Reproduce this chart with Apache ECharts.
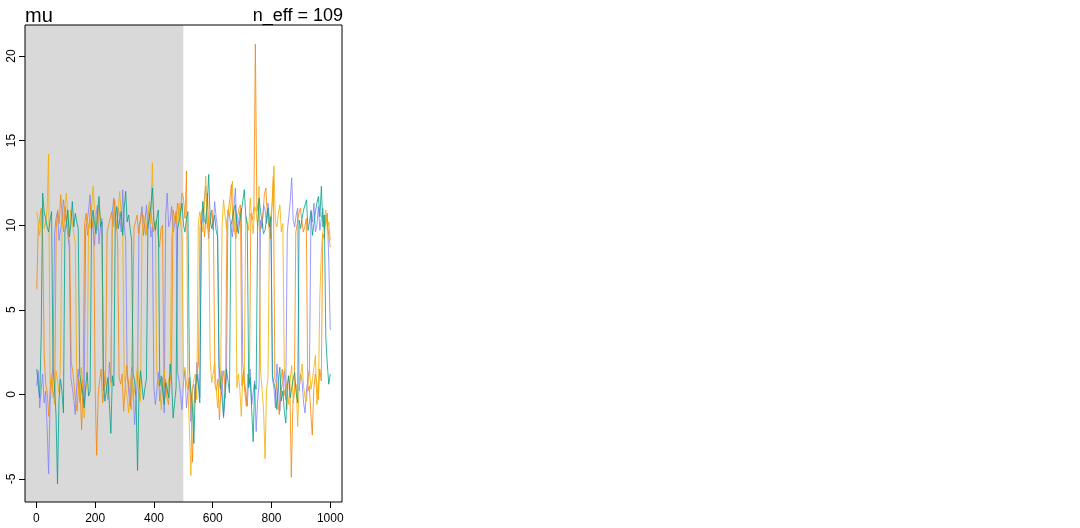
<!DOCTYPE html>
<html>
<head>
<meta charset="utf-8">
<script src="https://cdn.jsdelivr.net/npm/echarts@6/dist/echarts.min.js"></script>
<style>html,body{margin:0;padding:0;background:#fff}#c{width:1080px;height:528px}</style>
</head>
<body>
<div id="c"></div>
<script>
// Trace plot of parameter "mu": 4 chains, values read approximately every ~5 iterations
const chainNames = ['chain 1', 'chain 2', 'chain 3', 'chain 4'];
const chainColors = ['#8080FF', '#F98400', '#F2AD00', '#00A08A'];
const chain1 = [0.5,1.4,-0.8,0.3,1.2,-0.5,0.2,-1.9,-4.7,-0.6,0.8,1.7,9.5,10.4,10.8,9.1,9.2,10.3,11.5,10.7,10.1,9.4,8.6,1.0,0.4,-0.3,-1.2,0.6,1.5,-0.4,0.1,0.9,-0.5,9.7,10.2,10.9,11.8,10.3,9.7,8.8,10.6,11.2,8.9,9.9,10.4,0.2,1.1,0.4,-0.3,1.9,0.7,10.8,11.6,10.1,9.8,11.0,10.5,9.6,12.1,10.0,9.1,1.3,0.2,-0.7,1.6,0.4,-1.8,-0.2,0.9,10.0,10.3,11.1,9.4,10.2,11.2,9.8,10.7,9.3,9.9,0.5,-0.6,0.2,1.3,-0.4,0.4,1.0,-1.1,10.6,11.9,9.9,10.2,11.1,9.6,10.0,10.8,1.3,0.8,0.0,-0.9,0.7,1.4,-0.8,0.2,1.0,-1.6,0.3,0.6,-0.5,1.9,0.9,-0.2,9.9,10.4,11.5,12.3,10.2,9.2,10.6,10.9,9.7,11.4,10.5,9.8,0.8,0.3,1.4,-1.4,-0.2,1.0,10.9,10.6,9.9,9.3,11.0,12.2,9.6,10.1,10.8,11.0,1.8,0.9,0.1,-0.7,1.0,1.5,-0.6,0.1,0.8,-2.2,-0.4,0.6,10.3,9.8,11.2,10.9,10.1,11.3,10.4,9.5,0.9,0.4,-0.8,1.8,0.6,-1.0,0.3,0.7,1.4,-0.3,9.6,10.5,11.4,12.8,10.3,9.9,10.6,11.0,0.2,1.2,0.8,-0.5,-1.1,0.3,0.9,1.6,10.9,10.2,11.3,9.6,10.0,11.1,9.7,10.4,11.0,9.8,10.2,10.7,7.9,3.8];
const chain2 = [6.2,9.8,10.4,11.0,9.1,2.3,0.6,0.1,-1.3,0.4,1.1,-0.2,0.2,9.8,10.9,10.1,11.8,10.5,9.6,11.1,10.3,9.7,8.8,1.9,1.4,0.5,-0.4,-1.0,0.9,0.2,-2.1,1.0,10.1,10.7,9.4,10.0,11.2,9.9,10.6,0.4,-3.6,-0.1,0.8,1.5,-0.5,0.2,1.3,9.6,9.7,10.4,10.8,9.9,11.5,10.2,9.2,1.0,0.6,1.2,-1.0,0.3,1.7,0.9,0.1,-0.9,-0.8,9.9,10.2,10.6,9.5,10.1,10.8,10.4,9.9,9.4,10.4,10.9,11.1,10.2,9.6,10.0,10.3,9.3,8.7,9.8,10.0,0.4,0.9,-0.2,-0.6,0.7,1.4,10.9,10.5,10.1,11.3,10.6,10.8,11.9,11.6,10.4,13.2,0.3,1.0,-0.8,-4.0,-0.5,0.4,1.2,1.8,9.9,10.7,11.0,9.3,10.4,11.9,9.6,10.2,10.9,9.8,0.6,0.2,0.9,-1.5,0.3,0.8,1.4,-0.2,10.2,10.9,11.6,12.4,10.1,9.7,9.2,10.5,11.0,11.2,0.5,1.3,0.1,-0.7,1.2,0.6,10.7,10.3,11.1,20.7,10.8,11.4,9.7,10.0,10.5,11.8,12.2,10.6,9.9,9.2,11.0,12.9,0.9,0.7,-0.4,-1.2,0.8,1.5,-0.1,0.3,-0.9,1.1,0.6,-4.9,-0.7,0.4,9.6,10.1,10.7,11.0,10.3,9.6,9.9,10.4,0.2,0.5,-1.1,-2.4,0.3,1.2,0.7,-0.3,1.5,0.8,9.5,9.2,10.6,10.1,9.4,8.7];
const chain3 = [10.8,10.1,9.4,10.6,11.2,9.8,10.1,11.0,14.2,0.6,1.2,0.3,-0.6,1.4,0.8,0.1,1.9,9.8,10.5,11.2,11.9,10.4,9.6,10.9,10.2,9.5,8.9,1.0,0.3,-0.5,1.6,0.4,-1.4,0.2,0.7,10.1,9.8,10.9,12.3,11.0,10.4,9.7,11.1,10.5,9.3,0.5,1.4,0.6,-0.2,0.3,0.9,9.6,11.2,10.3,10.0,10.9,12.0,10.4,9.7,1.1,0.5,-0.2,-1.1,0.6,1.3,-0.3,0.2,0.8,1.8,0.1,-0.4,9.4,10.6,10.2,9.5,10.8,11.4,10.1,13.7,9.9,10.2,1.3,0.8,0.2,-0.9,0.7,1.5,-0.2,0.1,0.9,1.1,9.2,9.9,10.5,10.7,9.8,11.3,10.2,9.4,0.9,1.6,0.6,0.2,-2.1,-4.8,0.3,0.9,1.2,-0.3,10.1,10.8,10.2,9.6,11.0,12.9,9.8,10.3,2.1,0.7,1.2,1.9,0.4,-0.8,0.6,0.4,9.9,11.5,10.6,9.8,10.9,10.4,11.3,12.6,9.6,10.9,0.4,1.2,0.3,-1.3,1.1,0.6,10.5,10.2,9.7,11.6,10.4,9.5,11.1,10.8,9.9,12.3,1.4,0.3,-0.9,-3.8,0.2,1.0,9.8,10.6,11.4,13.5,10.2,9.9,10.7,11.2,9.6,10.1,1.6,0.8,0.1,-0.6,0.9,1.7,-0.5,0.2,0.6,-1.9,0.4,1.1,1.8,0.5,-0.2,-0.4,0.7,1.4,0.3,0.9,1.6,2.3,-0.6,0.1,5.9,8.4,9.6,10.3,10.9,9.7,10.2,9.1];
const chain4 = [1.5,0.6,-0.2,3.5,11.9,10.8,10.4,9.9,9.6,10.3,10.8,1.6,0.4,-1.2,-5.3,-0.4,0.9,0.2,-1.1,9.7,10.1,10.9,9.3,10.0,11.4,9.9,10.7,10.2,9.8,1.2,0.6,0.1,-0.8,0.5,1.3,-0.1,0.2,10.3,10.9,10.1,9.5,10.6,11.7,9.9,10.2,0.7,-0.4,0.3,1.0,-0.6,-2.3,1.1,0.5,10.4,11.1,9.8,10.3,10.8,9.4,11.0,12.0,10.2,10.6,9.8,9.1,1.2,0.8,-0.3,-4.5,0.2,1.4,0.5,-0.3,0.4,0.9,10.0,10.5,11.1,12.2,10.3,9.7,10.4,10.9,0.5,1.1,0.2,-0.6,0.7,0.3,-0.2,1.8,0.8,-1.4,-0.5,0.4,9.8,10.2,10.7,11.3,10.0,9.6,10.4,10.8,1.5,0.2,-0.7,-2.9,0.4,1.2,0.6,-0.5,9.7,11.4,10.3,10.1,11.2,13.0,10.4,9.8,10.1,10.6,9.7,9.3,1.7,0.6,-0.2,-1.3,0.3,1.5,0.8,0.1,10.0,10.4,10.9,11.2,10.1,9.5,10.3,10.8,11.4,12.1,10.6,10.0,0.4,1.0,-0.9,-2.8,0.6,0.3,9.9,11.6,10.8,10.2,9.5,9.7,10.4,11.0,9.9,10.5,1.1,0.7,0.2,-0.9,0.8,1.6,-0.4,0.2,-1.0,-1.7,0.5,1.1,-0.2,0.4,0.9,1.3,0.1,-0.5,10.3,9.8,10.4,10.9,11.2,11.5,9.7,10.2,10.8,9.4,10.1,10.8,11.3,11.7,10.5,12.3,9.9,10.6,3.4,1.8,0.6,1.2];
const chains = [chain1, chain2, chain3, chain4];
const xTicks = [0, 200, 400, 600, 800, 1000];
const yTicks = [-5, 0, 5, 10, 15, 20];
const warmupEnd = 500;
const nIter = 1000;
const titleText = 'mu';
const neffText = 'n_eff = 109';

const xMin = -38.96, xMax = 1039.96, yMin = -6.36, yMax = 21.83;

function toPairs(vals) {
  const n = vals.length;
  return vals.map((v, i) => [1 + i * (nIter - 1) / (n - 1), v]);
}

const series = [{
  type: 'line', data: [], z: 1, silent: true,
  markArea: {
    silent: true,
    itemStyle: { color: 'rgba(0,0,0,0.15)' },
    data: [[{ xAxis: xMin }, { xAxis: warmupEnd }]]
  }
}];
chains.forEach((c, k) => {
  series.push({
    name: chainNames[k], type: 'line', data: toPairs(c), z: 2 + k,
    showSymbol: false, symbol: 'none', smooth: false, silent: true,
    lineStyle: { color: chainColors[k], width: 0.8 }
  });
});

const chart = echarts.init(document.getElementById('c'), null, { renderer: 'canvas' });
chart.setOption({
  animation: false,
  backgroundColor: '#ffffff',
  textStyle: { fontFamily: 'Liberation Sans, Arial, sans-serif' },
  graphic: [
    { type: 'text', x: 25, y: 16, style: { text: titleText, font: '20px "Liberation Sans"', fill: '#000', align: 'left', verticalAlign: 'middle' } },
    { type: 'text', x: 343, y: 16, style: { text: neffText, font: '18px "Liberation Sans"', fill: '#000', align: 'right', verticalAlign: 'middle' } }
  ],
  grid: { left: 25, top: 25, width: 317, height: 477, show: true, borderColor: '#000', borderWidth: 1, backgroundColor: 'transparent', containLabel: false },
  xAxis: {
    type: 'value', min: xMin, max: xMax,
    axisLine: { show: false, onZero: false },
    splitLine: { show: false },
    axisTick: { show: true, inside: false, length: 6, lineStyle: { color: '#000' }, customValues: xTicks },
    axisLabel: { customValues: xTicks, margin: 11, fontSize: 12, color: '#000', fontFamily: 'Liberation Sans', formatter: v => String(v) }
  },
  yAxis: {
    type: 'value', min: yMin, max: yMax,
    axisLine: { show: false, onZero: false },
    splitLine: { show: false },
    axisTick: { show: true, inside: false, length: 6, lineStyle: { color: '#000' }, customValues: yTicks },
    axisLabel: { customValues: yTicks, rotate: 90, margin: 7, fontSize: 12, color: '#000', fontFamily: 'Liberation Sans', formatter: v => String(v) }
  },
  series: series
});
</script>
</body>
</html>
